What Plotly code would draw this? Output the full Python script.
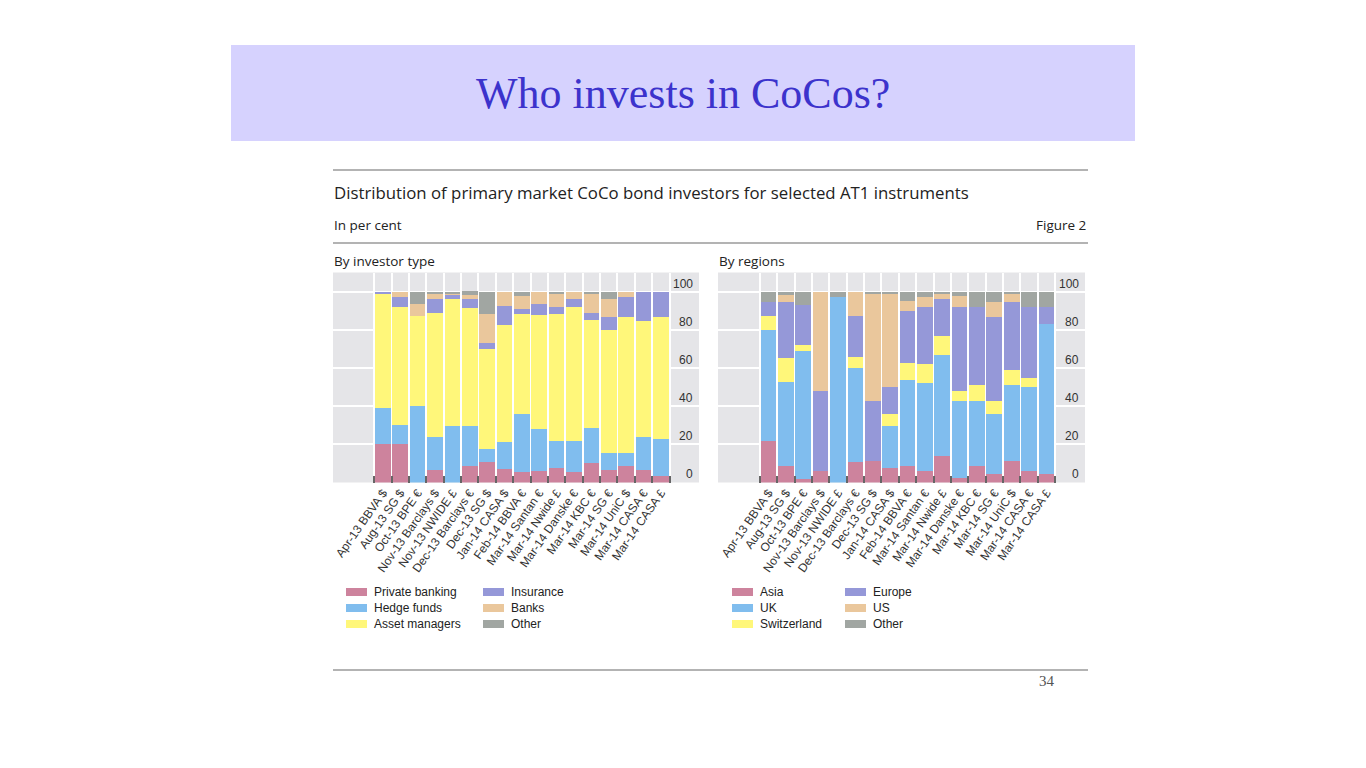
import plotly.graph_objects as go

# ---------------- data ----------------
categories = ["Apr-13 BBVA $", "Aug-13 SG $", "Oct-13 BPE €", "Nov-13 Barclays $",
              "Nov-13 NWIDE £", "Dec-13 Barclays €", "Dec-13 SG $", "Jan-14 CASA $",
              "Feb-14 BBVA €", "Mar-14 Santan €", "Mar-14 Nwide £", "Mar-14 Danske €",
              "Mar-14 KBC €", "Mar-14 SG €", "Mar-14 UniC $", "Mar-14 CASA €", "Mar-14 CASA £"]

# By investor type (per cent)
private_banking = [20, 20, 0, 6.5, 0, 8.6, 10.7, 7, 5.6, 6.1, 7.5, 5.6, 10, 6.5, 8.6, 6.5, 3.5]
hedge_funds     = [19, 10, 40, 17.3, 29.5, 21, 7, 14.2, 30.2, 22, 14, 15.9, 18.7, 9.1, 7, 17.3, 19.2]
asset_managers  = [60, 62, 47, 65.2, 66.5, 61.6, 52.2, 61.3, 52.3, 59.5, 66.6, 70.6, 56.4, 64.3, 71.3, 61, 64.2]
insurance       = [1, 5, 0, 7, 2.3, 4.9, 3, 10, 3, 5.9, 4, 3.9, 3.9, 7, 10.1, 15.2, 13.1]
banks           = [0, 3, 6.5, 2.8, 1.2, 2.3, 15.2, 7.5, 6.8, 6.5, 7.4, 4, 9.8, 9.1, 3, 0, 0]
other_type      = [0, 0, 6.5, 1.2, 0.5, 1.7, 11.9, 0, 2.1, 0, 0.5, 0, 1.2, 4, 0, 0, 0]

# By regions (per cent)
asia        = [21.7, 8.6, 1.7, 5.9, 0, 10.5, 11.4, 7.7, 8.6, 5.8, 13.8, 2.4, 8.6, 4.7, 11.4, 5.8, 4.4]
uk          = [58.2, 44.2, 67.2, 0, 97, 49.3, 0, 21.8, 45.1, 46.1, 53, 40.4, 34.2, 31.1, 39.5, 44, 78.5]
switzerland = [7.3, 12.2, 3.1, 0, 0, 6.1, 0, 6.3, 9.1, 10, 10.1, 5.1, 8.1, 7, 8, 5.1, 0]
europe      = [7.6, 29.8, 21, 41.8, 0, 21.3, 31.4, 14.4, 27.2, 30.2, 19.1, 44.2, 41.2, 44.1, 35.9, 37.2, 9.2]
us          = [0, 3.3, 0, 52.3, 0, 12.8, 56.3, 49.3, 5.1, 4.9, 2.8, 5.8, 0, 7.9, 4.3, 0, 0]
other_reg   = [5.2, 1.9, 7, 0, 3, 0, 0.9, 0.5, 4.9, 3, 1.2, 2.1, 7.9, 5.2, 0.9, 7.9, 7.9]

type_names = ["Private banking", "Hedge funds", "Asset managers", "Insurance", "Banks", "Other"]
region_names = ["Asia", "UK", "Switzerland", "Europe", "US", "Other"]
y_ticks = [0, 20, 40, 60, 80, 100]

# ---------------- styles ----------------
colors = ["#cd839d", "#80bdee", "#fff77a", "#9598d8", "#eac79c", "#a1a6a2"]
W, H = 1366, 768
BG = "#e5e5e8"
SANS = "Liberation Sans, Arial, sans-serif"
UI = "Open Sans, Noto Sans, sans-serif"


def px(x):
    return x / W


def py(y):
    return 1 - y / H


fig = go.Figure()

type_series = [private_banking, hedge_funds, asset_managers, insurance, banks, other_type]
region_series = [asia, uk, switzerland, europe, us, other_reg]

for name, vals, c in zip(type_names, type_series, colors):
    fig.add_trace(go.Bar(x=categories, y=vals, name=name, marker=dict(color=c, line=dict(width=0)),
                         width=0.9, xaxis="x", yaxis="y", showlegend=False))
for name, vals, c in zip(region_names, region_series, colors):
    fig.add_trace(go.Bar(x=categories, y=vals, name=name, marker=dict(color=c, line=dict(width=0)),
                         width=0.9, xaxis="x2", yaxis="y2", showlegend=False))

ydom = [py(482.5), py(272.5)]
pitch = 17.37
left_x0, left_x1, left_c0 = 333, 699, 382.9
right_x0, right_x1, right_c0 = 718, 1085, 768.5


def xaxis_cfg(x0, x1, c0, anchor):
    r0 = -(c0 - x0) / pitch
    r1 = r0 + (x1 - x0) / pitch
    return dict(domain=[px(x0), px(x1)], anchor=anchor, type="category",
                categoryorder="array", categoryarray=categories,
                range=[r0, r1], tickson="boundaries", ticks="inside", ticklen=7,
                tickwidth=1.5, tickcolor="#666666", showgrid=True, gridcolor="white",
                gridwidth=1.5, tickangle=-55, showline=False, zeroline=False,
                tickfont=dict(family=SANS, size=12, color="#333333"), fixedrange=True)


def yaxis_cfg(anchor):
    return dict(domain=ydom, anchor=anchor, range=[0, 110], tickvals=y_ticks,
                showticklabels=False, showgrid=True, gridcolor="white", gridwidth=1.5,
                zeroline=False, showline=False, ticks="", fixedrange=True)


fig.update_layout(
    width=W, height=H, margin=dict(l=0, r=0, t=0, b=0),
    paper_bgcolor="white", plot_bgcolor=BG, barmode="stack", bargap=0.1,
    xaxis=xaxis_cfg(left_x0, left_x1, left_c0, "y"),
    yaxis=yaxis_cfg("x"),
    xaxis2=xaxis_cfg(right_x0, right_x1, right_c0, "y2"),
    yaxis2=yaxis_cfg("x2"),
    showlegend=False,
)

shapes = []
annotations = []

# title banner
shapes.append(dict(type="rect", xref="paper", yref="paper", x0=px(231), x1=px(1135),
                   y0=py(141), y1=py(45), fillcolor="#d6d2fe", line=dict(width=0), layer="below"))
annotations.append(dict(text="Who invests in CoCos?", xref="paper", yref="paper", x=px(683), y=py(93),
                        xanchor="center", yanchor="middle", showarrow=False,
                        font=dict(family="Liberation Serif, Times New Roman, serif", size=44, color="#3c33cc")))

# rules
for yy in (170, 243, 670):
    shapes.append(dict(type="line", xref="paper", yref="paper", x0=px(333), x1=px(1088),
                       y0=py(yy), y1=py(yy), line=dict(color="#9a9a9a", width=1.5)))

annotations.append(dict(text="Distribution of primary market CoCo bond investors for selected AT1 instruments",
                        xref="paper", yref="paper", x=px(332), y=py(193), xanchor="left", yanchor="middle",
                        showarrow=False, font=dict(family=UI, size=16.8, color="#222222")))
for txt, xx, yy, anchor in (("In per cent", 332, 225, "left"), ("Figure 2", 1088, 225, "right"),
                            ("By investor type", 332, 261, "left"), ("By regions", 717, 261, "left")):
    annotations.append(dict(text=txt, xref="paper", yref="paper", x=px(xx), y=py(yy),
                            xanchor=anchor, yanchor="middle", showarrow=False,
                            font=dict(family=UI, size=13.5, color="#222222")))
annotations.append(dict(text="34", xref="paper", yref="paper", x=px(1047), y=py(681),
                        xanchor="center", yanchor="middle", showarrow=False,
                        font=dict(family="Liberation Serif, serif", size=15, color="#555555")))

# y tick labels (right side, above gridlines)
for yref, xr in (("y", 695), ("y2", 1081)):
    for v in y_ticks:
        annotations.append(dict(text=str(v), xref="paper", yref=yref, x=px(xr), y=v,
                                xanchor="right", yanchor="middle", yshift=8, showarrow=False,
                                font=dict(family=SANS, size=12, color="#333333")))

# legends
rows = [592, 608, 624]


def legend(names, col_x, swatch_w=21):
    for i, (name, c) in enumerate(zip(names, colors)):
        col, row = divmod(i, 3)
        sx = col_x[col]
        yy = rows[row]
        shapes.append(dict(type="rect", xref="paper", yref="paper", x0=px(sx), x1=px(sx + swatch_w),
                           y0=py(yy + 4), y1=py(yy - 4), fillcolor=c, line=dict(width=0)))
        annotations.append(dict(text=name, xref="paper", yref="paper", x=px(sx + 26), y=py(yy),
                                xanchor="left", yanchor="middle", showarrow=False,
                                font=dict(family=SANS, size=12, color="#222222")))


legend(type_names, [346, 483])
legend(region_names, [732, 845])

fig.update_layout(shapes=shapes, annotations=annotations)

fig.write_html("out.html", config={"displayModeBar": False},
               post_script="document.body.style.margin='0px';")
